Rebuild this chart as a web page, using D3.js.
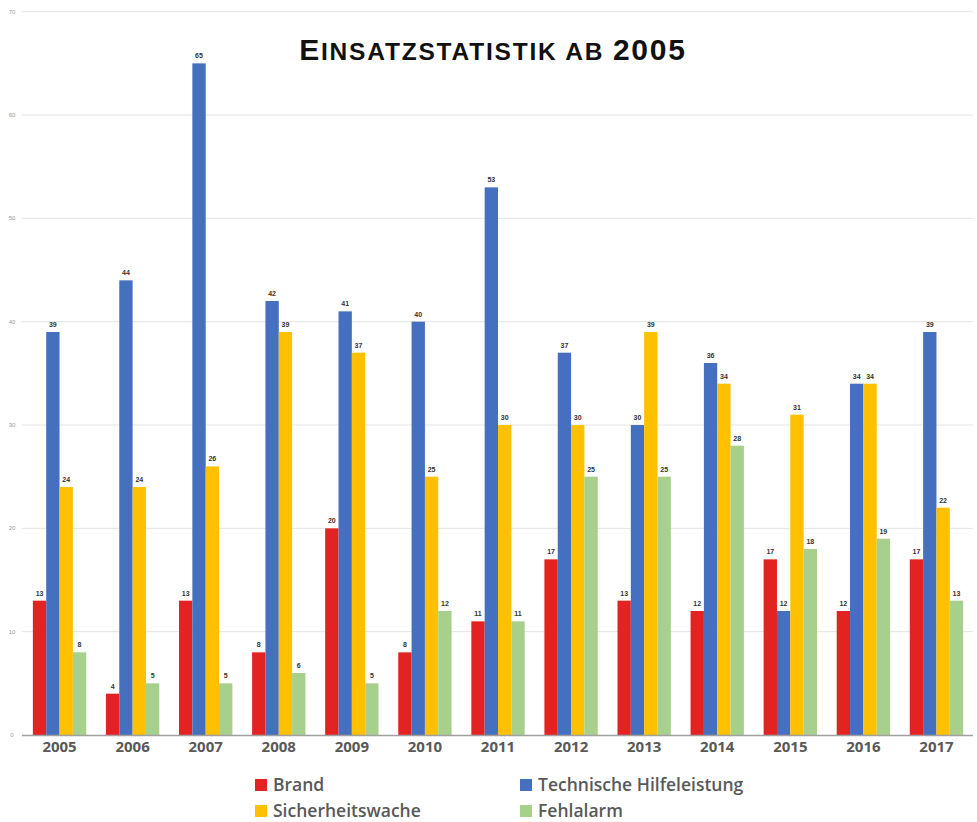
<!DOCTYPE html>
<html><head><meta charset="utf-8">
<script src="https://cdn.jsdelivr.net/npm/d3@7"></script>
<style>body{margin:0;background:#fff}svg{display:block}</style>
</head><body>
<svg id="chart" width="977" height="822"></svg>
<script>
const years = ["2005","2006","2007","2008","2009","2010","2011","2012","2013","2014","2015","2016","2017"];
const seriesNames = ["Brand","Technische Hilfeleistung","Sicherheitswache","Fehlalarm"];
const brand = [13,4,13,8,20,8,11,17,13,12,17,12,17];
const technische = [39,44,65,42,41,40,53,37,30,36,12,34,39];
const sicherheit = [24,24,26,39,37,25,30,30,39,34,31,34,22];
const fehlalarm = [8,5,5,6,5,12,11,25,25,28,18,19,13];
const yTicks = [0,10,20,30,40,50,60,70];
const colors = ["#e32322","#4470bf","#ffc000","#a8d08d"];

const seriesValues = [brand, technische, sicherheit, fehlalarm];
const svg = d3.select("#chart");

const x = d3.scaleBand().domain(years).range([23, 973]).paddingInner(0.27).paddingOuter(0.135);
const xs = d3.scaleBand().domain(seriesNames).range([0, x.bandwidth()]);
const y = d3.scaleLinear().domain([0,70]).range([735, 11.7]);

// gridlines
svg.append("g").selectAll("line").data(yTicks.filter(d=>d>0)).join("line")
  .attr("x1",22).attr("x2",973).attr("y1",d=>y(d)).attr("y2",d=>y(d))
  .attr("stroke","#e4e4e4").attr("stroke-width",1);
// y tick labels
svg.append("g").selectAll("text").data(yTicks).join("text")
  .attr("x",12).attr("y",d=>y(d)).attr("dy","0.35em").attr("text-anchor","middle")
  .attr("font-family","Liberation Sans, Arial, sans-serif").attr("font-size",6)
  .attr("fill","#9a9a9a").text(d=>d);

// bars
const groups = svg.append("g").selectAll("g").data(years).join("g")
  .attr("transform",d=>`translate(${x(d)},0)`);
groups.selectAll("rect").data((yr,i)=>seriesNames.map((s,k)=>({s,v:seriesValues[k][i],k})))
  .join("rect")
  .attr("x",d=>xs(d.s)).attr("width",xs.bandwidth())
  .attr("y",d=>y(d.v)).attr("height",d=>y(0)-y(d.v))
  .attr("fill",d=>colors[d.k]);
groups.selectAll("text").data((yr,i)=>seriesNames.map((s,k)=>({s,v:seriesValues[k][i],k})))
  .join("text")
  .attr("x",d=>xs(d.s)+xs.bandwidth()/2).attr("y",d=>y(d.v)-5)
  .attr("text-anchor","middle")
  .attr("font-family","Liberation Sans, Arial, sans-serif").attr("font-size",7).attr("font-weight","bold")
  .attr("fill","#333").text(d=>d.v);

// baseline
svg.append("line").attr("x1",22).attr("x2",973).attr("y1",y(0)+0.5).attr("y2",y(0)+0.5)
  .attr("stroke","#a0a0a0").attr("stroke-width",1.5);

// x axis labels
const xAxis = d3.axisBottom(x).tickSize(0).tickPadding(6);
const xg = svg.append("g").attr("transform",`translate(0,${y(0)})`).call(xAxis);
xg.select(".domain").remove();
xg.selectAll("text").attr("font-family","Open Sans, sans-serif").attr("font-size",15)
  .attr("font-weight","bold").attr("fill","#595959");

// title (manual small caps)
const title = svg.append("text").attr("x",493).attr("y",59.5).attr("text-anchor","middle")
  .attr("font-family","Liberation Sans, Arial, sans-serif")
  .attr("font-weight","bold").attr("fill","#111").attr("letter-spacing",1.8);
title.append("tspan").attr("font-size",30).text("E");
title.append("tspan").attr("font-size",24.5).text("INSATZSTATISTIK AB ");
title.append("tspan").attr("font-size",30).text("2005");

// legend
const legPos = [[255,785],[520,785],[255,811],[520,811]];
const leg = svg.append("g").selectAll("g").data(seriesNames).join("g")
  .attr("transform",(d,i)=>`translate(${legPos[i][0]},${legPos[i][1]})`);
leg.append("rect").attr("x",0).attr("y",-6).attr("width",12).attr("height",12)
  .attr("fill",(d,i)=>colors[i]);
leg.append("text").attr("x",18).attr("y",0).attr("dy","0.35em")
  .attr("font-family","Open Sans, sans-serif").attr("font-size",17.5).attr("font-weight","600")
  .attr("fill","#595959").text(d=>d);
</script>
</body></html>
